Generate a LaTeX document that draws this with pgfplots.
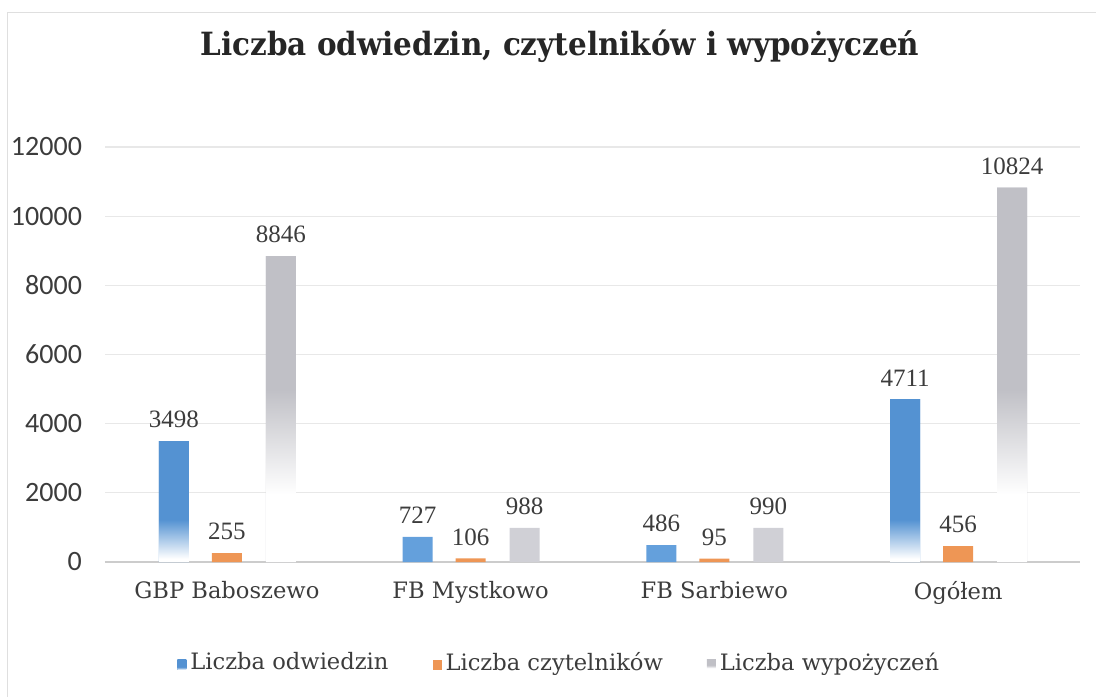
\documentclass[border=0pt]{standalone}
\usepackage{pgfplots}
\pgfplotsset{compat=1.18}
\usepackage{fontspec}
\usepackage{graphicx}
\setmainfont{DejaVu Serif}
\newfontfamily\tickfont{Carlito}
\newfontfamily\numfont{Liberation Serif}

\definecolor{cblue}{RGB}{84,146,210}
\definecolor{cbluel}{RGB}{100,160,220}
\definecolor{corange}{RGB}{238,150,85}
\definecolor{cgray}{RGB}{192,192,198}
\definecolor{cgrayl}{RGB}{208,208,214}
\definecolor{ctxt}{RGB}{60,60,60}

% the tall bars fade to white towards the bottom
\pgfdeclareverticalshading{bfade}{100bp}{color(0bp)=(white); color(26bp)=(white); color(38bp)=(cblue); color(100bp)=(cblue)}
\pgfdeclareverticalshading{gfade}{100bp}{color(0bp)=(white); color(34bp)=(white); color(48bp)=(cgray); color(100bp)=(cgray)}

\begin{document}
\begin{tikzpicture}
\path (0,0) rectangle (550pt,348.5pt);
\draw[gray!25, line width=0.4pt] (3.5pt,0) -- (3.5pt,342.5pt) -- (548pt,342.5pt);
\node[font=\fontsize{16}{19}\selectfont\bfseries, text=black!85] at (280pt,325.5pt)
  {\scalebox{0.92}[1]{Liczba odwiedzin, czytelników i wypożyczeń}};

\begin{axis}[
  at={(52.5pt,67.5pt)}, anchor=south west,
  scale only axis, width=487.5pt, height=207.5pt,
  ymin=0, ymax=12000, ytick={0,2000,...,12000},
  xmin=-0.5, xmax=3.5, xtick={0,1,2,3},
  xticklabels={GBP Baboszewo, FB Mystkowo, FB Sarbiewo, Ogółem},
  scaled y ticks=false,
  /pgf/number format/1000 sep={},
  /pgf/number format/assume math mode=true,
  ybar, bar width=15pt,
  axis x line*=bottom, axis y line*=left,
  y axis line style={draw=none},
  x axis line style={gray!40, line width=0.6pt},
  tick style={draw=none},
  ymajorgrids, grid style={gray!18, line width=0.6pt},
  yticklabel style={font=\tickfont\fontsize{14}{16}\selectfont, text=ctxt, xshift=-8pt},
  xticklabel style={font=\fontsize{11.3}{13}\selectfont, text=ctxt, yshift=-2pt},
  nodes near coords,
  nodes near coords style={font=\numfont\fontsize{12.5}{14}\selectfont, text=ctxt, yshift=3pt},
  legend columns=3,
  legend style={at={(0.467,-0.243)}, anchor=center, draw=none, fill=none,
    font=\fontsize{11.3}{13}\selectfont, text=ctxt,
    /tikz/every even column/.append style={column sep=20pt}},
  legend image code/.code={\fill[#1] (0pt,-3.5pt) rectangle (4.5pt,1.5pt);},
]
% tall bars (GBP Baboszewo, Ogółem) with fade; short bars plain
\addplot[draw=none, fill=cblue, shading=bfade, bar shift=-26.5pt]
  coordinates {(0,3498) (3,4711)};
\addplot[draw=none, fill=corange, bar shift=0pt]
  coordinates {(0,255) (1,106) (2,95) (3,456)};
\addplot[draw=none, fill=cgray, shading=gfade, bar shift=27pt]
  coordinates {(0,8846) (3,10824)};
\addplot[forget plot, draw=none, fill=cbluel, bar shift=-26.5pt]
  coordinates {(1,727) (2,486)};
\addplot[forget plot, draw=none, fill=cgrayl, bar shift=27pt]
  coordinates {(1,988) (2,990)};
\legend{Liczba odwiedzin, Liczba czytelników, Liczba wypożyczeń}
\end{axis}
\end{tikzpicture}
\end{document}
